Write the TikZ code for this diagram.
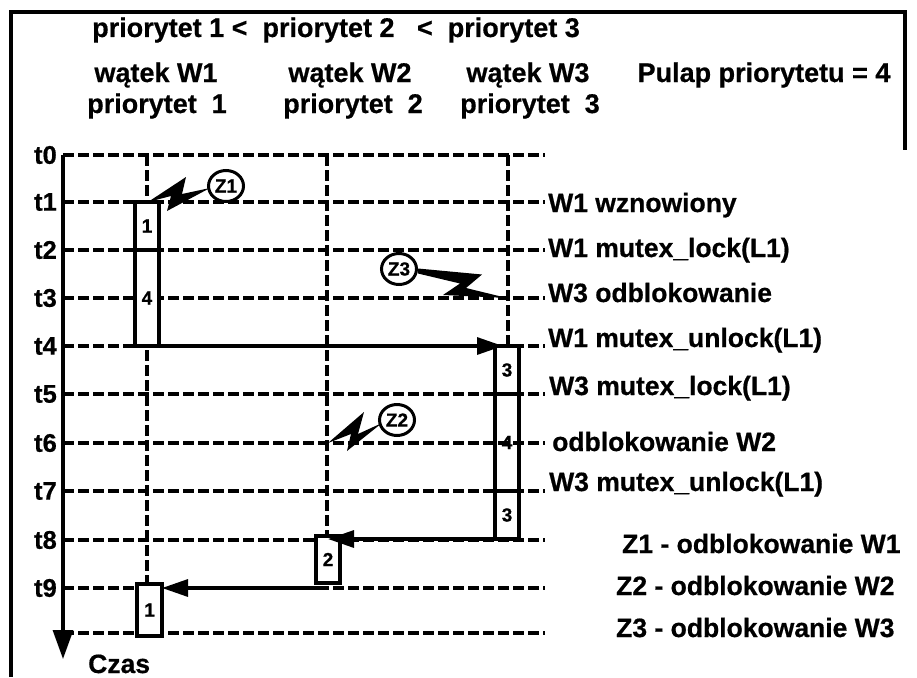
\documentclass[tikz,border=0pt]{standalone}
\usepackage{fontspec}
\setmainfont{Liberation Sans}[BoldFeatures={FakeBold=0.6}]
\usetikzlibrary{arrows.meta,shapes.geometric}
\begin{document}
\begin{tikzpicture}[x=1pt,y=-1pt,
  lbl/.style={font=\fontsize{26.5}{30}\selectfont\bfseries, inner sep=0pt, anchor=base west},
  hdr/.style={font=\fontsize{27}{30}\selectfont\bfseries, inner sep=0pt, anchor=base},
  tlab/.style={font=\fontsize{25.5}{30}\selectfont\bfseries, inner sep=0pt, anchor=east},
  gridline/.style={line width=3.1pt, dash pattern=on 10.5pt off 4.5pt},
  boxw/.style={draw, line width=3.2pt, inner sep=0pt, outer sep=0pt, minimum width=24pt,
               font=\fontsize{19}{20}\selectfont\bfseries},
  boxf/.style={boxw, fill=white},
  arr/.style={line width=3.2pt, -{Triangle[length=26pt,width=17pt]}},
  zc/.style={draw, ellipse, line width=3pt, fill=white, inner sep=0pt,
             minimum width=35pt, minimum height=31pt, font=\fontsize{19}{20}\selectfont\bfseries},
  bolt/.style={fill=black}
]
\useasboundingbox (0,0) rectangle (917,677);
% frame
\draw[line width=3.2pt] (11,677) -- (11,12) -- (905,12) -- (905,150);

% headers
\node[hdr, anchor=base west] (title) at (92,37) {priorytet 1 <\ \ priorytet 2\ \ \ <\ \ priorytet 3};
\node[hdr] (h1) at (156,82) {wątek W1};
\node[hdr] (h2) at (350,82) {wątek W2};
\node[hdr] (h3) at (528,82) {wątek W3};
\node[hdr] (p1) at (157,113) {priorytet\ \ 1};
\node[hdr] (p2) at (353,113) {priorytet\ \ 2};
\node[hdr] (p3) at (530,113) {priorytet\ \ 3};
\node[hdr] (pulap) at (764,82) {Pulap priorytetu = 4};

% time lines
\foreach \i/\y in {0/155,1/202,2/250,3/298,4/346,5/394,6/443,7/491,8/540,9/588} {
  \coordinate (L\i) at (63,\y);
  \coordinate (R\i) at (545,\y);
  \draw[gridline] (L\i) -- (R\i);
  \node[tlab] (tl\i) at (57,\y) {t\i};
}
\coordinate (L10) at (63,633);
\coordinate (R10) at (545,633);
\draw[gridline] (L10) -- (R10);

% thread lines
\coordinate (w1top) at (147,155);
\coordinate (w2top) at (327,155);
\coordinate (w3top) at (508,155);
\draw[gridline] (w1top) -- (147,584);
\draw[gridline] (w2top) -- (327,536);
\draw[gridline] (w3top) -- (508,346);

% boxes
\node[boxf, minimum height=48pt] (b1a) at (147,226) {1};
\node[boxf, minimum height=96pt] (b1b) at (147,298) {4};
\node[boxw, minimum height=48pt] (b3a) at (507,370) {3};
\node[boxw, minimum height=97pt] (b3b) at (507,442.5) {4};
\node[boxw, minimum height=48pt] (b3c) at (507,515) {3};
\node[boxf, minimum height=47pt] (b2) at (328,559.5) {2};
\node[boxf, minimum height=52pt, minimum width=25pt] (b1c) at (149.5,610) {1};

% arrows
\draw[arr] (b1b.south east) -- ([xshift=8pt]b3a.north west);
\draw[arr] (b3c.south west) -- (b3c.south west -| b2.north);
\draw[arr] ([yshift=-5pt]b2.south) -- ([yshift=-5pt]b2.south -| b1c.east);

% time axis
\coordinate (ax0) at (63,155);
\coordinate (ax1) at (63,659);
\draw[line width=3.2pt, -{Triangle[length=29pt,width=20pt]}] (ax0) -- (ax1);
\node[lbl] (czas) at (88,673) {Czas};

% lightning bolts
\fill[bolt] (148,202) -- (186,177) -- (182,194) -- (210,188) -- (167,211) -- (171,196) -- cycle;
\fill[bolt] (328,443) -- (364,412) -- (358,434) -- (382,423) -- (347,451) -- (351,434) -- cycle;
\fill[bolt] (418,268.5) -- (482,274.5) -- (466,288) -- (507,298) -- (443,295) -- (460,283.5) -- (418,273.5) -- cycle;
\node[zc] (z1) at (226,186) {Z1};
\node[zc] (z2) at (397,420) {Z2};
\node[zc] (z3) at (399,269) {Z3};

% right labels
\node[lbl] (e1) at (548,212) {W1 wznowiony};
\node[lbl] (e2) at (548,257) {W1 mutex\_lock(L1)};
\node[lbl] (e3) at (548,302) {W3 odblokowanie};
\node[lbl] (e4) at (548,347) {W1 mutex\_unlock(L1)};
\node[lbl] (e5) at (549,395) {W3 mutex\_lock(L1)};
\node[lbl] (e6) at (552,451) {odblokowanie W2};
\node[lbl] (e7) at (549,491) {W3 mutex\_unlock(L1)};
\node[lbl] (k1) at (622,553) {Z1 - odblokowanie W1};
\node[lbl] (k2) at (616,595) {Z2 - odblokowanie W2};
\node[lbl] (k3) at (616,637) {Z3 - odblokowanie W3};
\end{tikzpicture}
\end{document}
